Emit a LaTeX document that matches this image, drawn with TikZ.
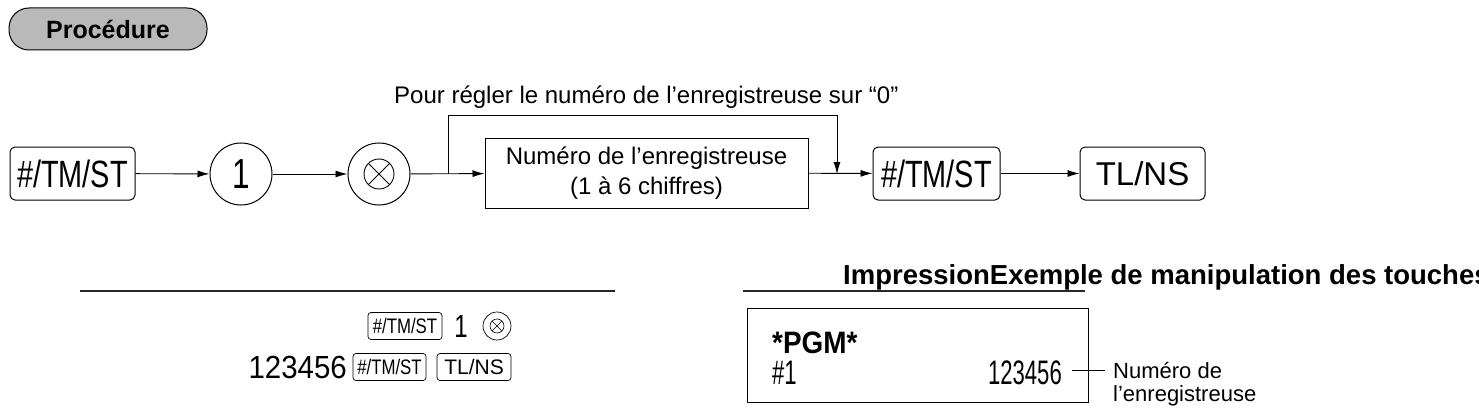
\documentclass[tikz,border=0pt]{standalone}
\usepackage{fontspec}
\setmainfont{Liberation Sans}
\usetikzlibrary{arrows.meta}
\newcommand{\cnd}[2]{\scalebox{#1}[1]{#2}}
\begin{document}
\begin{tikzpicture}[x=1pt,y=-1pt,
  key/.style={draw,rounded corners=5pt,line width=1pt,minimum height=53pt,inner sep=0pt},
  circ/.style={draw,circle,line width=1pt,minimum size=62pt,inner sep=0pt},
  arr/.style={-{Latex[length=12pt,width=7pt]},line width=0.9pt},
  skey/.style={draw,rounded corners=3pt,line width=0.7pt,minimum height=27pt,inner sep=0pt,font=\fontsize{21}{22}\selectfont}]
\clip (0,0) rectangle (1479,409);
\useasboundingbox (0,0) rectangle (1479,409);
\node[draw,fill=gray!55,rounded corners=20pt,line width=1pt,minimum width=198pt,minimum height=42pt,font=\bfseries\fontsize{25}{26}\selectfont] (proc) at (108,29) {Procédure};
\node[key,minimum width=125pt,font=\fontsize{38}{40}\selectfont] (k1) at (72.5,173.5) {\cnd{0.76}{\#/TM/ST}};
\node[circ,font=\fontsize{42}{44}\selectfont] (c1) at (241,174) {\cnd{0.75}{1}};
\node[circ] (c2) at (379,174) {};
\draw[line width=0.9pt] (c2.center) circle (15pt);
\draw[line width=0.9pt] (c2.center) ++(-10.6pt,-10.6pt) -- ++(21.2pt,21.2pt);
\draw[line width=0.9pt] (c2.center) ++(-10.6pt,10.6pt) -- ++(21.2pt,-21.2pt);
\node[draw,line width=1pt,minimum width=323pt,minimum height=70pt,align=center,font=\fontsize{24}{30}\selectfont] (box) at (646.5,173) {Numéro de l’enregistreuse\\(1 à 6 chiffres)};
\node[key,minimum width=127pt,font=\fontsize{38}{40}\selectfont] (k2) at (936.5,173.5) {\cnd{0.76}{\#/TM/ST}};
\node[key,minimum width=125pt,font=\fontsize{33}{34}\selectfont] (k3) at (1142.5,173.5) {TL/NS};
\node[font=\fontsize{24}{26}\selectfont,anchor=base west,inner sep=0pt] (pl) at (394,103) {Pour régler le numéro de l’enregistreuse sur “0”};
\coordinate (br) at (448,174);
\coordinate (tl) at (448,115);
\coordinate (tr) at (837,115);
\coordinate (jn) at (837,174);
\draw[arr] (k1) -- (c1);
\draw[arr] (c1) -- (c2);
\draw[arr] (c2) -- (box);
\draw[arr] (box) -- (k2);
\draw[arr] (k2) -- (k3);
\draw[line width=0.9pt] (br) -- (tl) -- (tr);
\draw[arr] (tr) -- (jn);
% left example
\coordinate (l1) at (80,291); \coordinate (l2) at (615,291);
\draw[line width=1.3pt,gray!30!black] (l1) -- (l2);
\node[skey,minimum width=74pt] (sk1) at (405,326) {\cnd{0.8}{\#/TM/ST}};
\node[font=\fontsize{32}{32}\selectfont,inner sep=0pt] (s1) at (461,326) {\cnd{0.75}{1}};
\node[draw,circle,line width=0.7pt,minimum size=28pt,inner sep=0pt] (sc) at (497,326) {};
\draw[line width=0.6pt] (sc.center) circle (7pt);
\draw[line width=0.6pt] (sc.center) ++(-5pt,-5pt) -- ++(10pt,10pt);
\draw[line width=0.6pt] (sc.center) ++(-5pt,5pt) -- ++(10pt,-10pt);
\node[skey,minimum width=73pt] (sk2) at (389.5,367) {\cnd{0.8}{\#/TM/ST}};
\node[skey,minimum width=74pt] (sk3) at (474,367) {TL/NS};
\node[font=\fontsize{32}{32}\selectfont,anchor=east,inner sep=0pt] (num) at (347,367) {\cnd{0.92}{123456}};
% right example
\coordinate (r1) at (743,291); \coordinate (r2) at (1085,291);
\draw[line width=1.3pt,gray!30!black] (r1) -- (r2);
\node[anchor=base west,font=\bfseries\fontsize{27.5}{30}\selectfont,inner sep=0pt] (hd) at (843,284) {ImpressionExemple de manipulation des touches};
\node[draw,line width=1pt,minimum width=341pt,minimum height=94pt] (rc) at (917.5,355) {};
\node[anchor=base west,font=\bfseries\fontsize{31}{31}\selectfont,inner sep=0pt] (pgm) at (772,353) {\cnd{0.9}{*PGM*}};
\node[anchor=base west,font=\fontsize{34}{34}\selectfont,inner sep=0pt] (h1) at (772,384) {\cnd{0.65}{\#1}};
\node[anchor=base east,font=\fontsize{34}{34}\selectfont,inner sep=0pt] (v) at (1062,384) {\cnd{0.65}{123456}};
\node[anchor=base west,font=\fontsize{22}{22}\selectfont,inner sep=0pt] (nl1) at (1113,378) {Numéro de};
\node[anchor=base west,font=\fontsize{22}{22}\selectfont,inner sep=0pt] (nl2) at (1113,401) {l’enregistreuse};
\coordinate (la) at (1072,370); \coordinate (lb) at (1105,370);
\draw[line width=0.9pt] (la) -- (lb);
\end{tikzpicture}
\end{document}
